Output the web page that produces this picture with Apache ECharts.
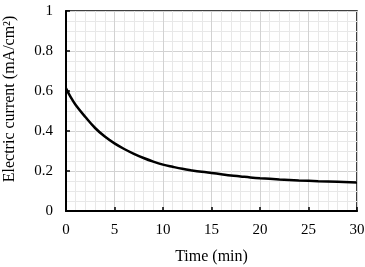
<!DOCTYPE html>
<html>
<head>
<meta charset="utf-8">
<script src="https://cdn.jsdelivr.net/npm/echarts@6/dist/echarts.min.js"></script>
<style>
  html, body { margin: 0; padding: 0; background: #fff; }
  #chart { width: 365px; height: 267px; }
</style>
</head>
<body>
<div id="chart"></div>
<script>
// time (min) and electric current (mA/cm2)
var times = [0, 0.5, 1, 2, 3, 4, 5, 6, 7, 8, 9, 10, 11, 12, 13, 14, 15, 16, 17, 18, 19, 20, 22, 24, 26, 28, 30];
var current = [0.613, 0.568, 0.530, 0.470, 0.415, 0.372, 0.338, 0.310, 0.286, 0.265, 0.247, 0.232, 0.221, 0.211, 0.203, 0.196, 0.190, 0.184, 0.178, 0.173, 0.168, 0.164, 0.158, 0.153, 0.149, 0.146, 0.143];

var xTicks = [0, 5, 10, 15, 20, 25, 30];
var yTicks = [0, 0.2, 0.4, 0.6, 0.8, 1];

var points = [];
for (var i = 0; i < times.length; i++) {
    points.push([times[i], current[i]]);
}

var font = 'Liberation Serif, Times New Roman, serif';

var chart = echarts.init(document.getElementById('chart'));
chart.setOption({
    animation: false,
    grid: {
        left: 66, right: 8, top: 11, bottom: 56,
        outerBoundsMode: 'none',
        containLabel: false,
        show: true, borderColor: '#000', borderWidth: 1.5
    },
    xAxis: {
        type: 'value',
        min: xTicks[0], max: xTicks[xTicks.length - 1], interval: 5,
        name: 'Time (min)',
        nameLocation: 'middle',
        nameGap: 38,
        nameTextStyle: { fontFamily: font, fontSize: 16, color: '#000' },
        axisLine: { show: true, lineStyle: { color: '#000', width: 2 } },
        axisTick: { show: true, inside: true, length: 4, lineStyle: { color: '#000', width: 1.5 } },
        axisLabel: { fontFamily: font, fontSize: 15, color: '#000', margin: 12 },
        splitLine: { show: true, lineStyle: { color: '#d2d2d2', width: 1 } },
        minorTick: { show: false, splitNumber: 5 },
        minorSplitLine: { show: true, lineStyle: { color: '#e8e8e8', width: 1 } }
    },
    yAxis: {
        type: 'value',
        min: yTicks[0], max: yTicks[yTicks.length - 1], interval: 0.2,
        name: 'Electric current (mA/cm²)',
        nameLocation: 'middle',
        nameGap: 48,
        nameTextStyle: { fontFamily: font, fontSize: 16, color: '#000', padding: [0, 0, 0, 24] },
        axisLine: { show: true, lineStyle: { color: '#000', width: 2 } },
        axisTick: { show: true, inside: true, length: 4, lineStyle: { color: '#000', width: 1.5 } },
        axisLabel: { fontFamily: font, fontSize: 15, color: '#000', margin: 13 },
        splitLine: { show: true, lineStyle: { color: '#d2d2d2', width: 1 } },
        minorTick: { show: false, splitNumber: 4 },
        minorSplitLine: { show: true, lineStyle: { color: '#e8e8e8', width: 1 } }
    },
    series: [{
        type: 'line',
        data: points,
        smooth: 0.4,
        symbol: 'none',
        lineStyle: { color: '#000', width: 2.5 }
    }]
});
</script>
</body>
</html>
